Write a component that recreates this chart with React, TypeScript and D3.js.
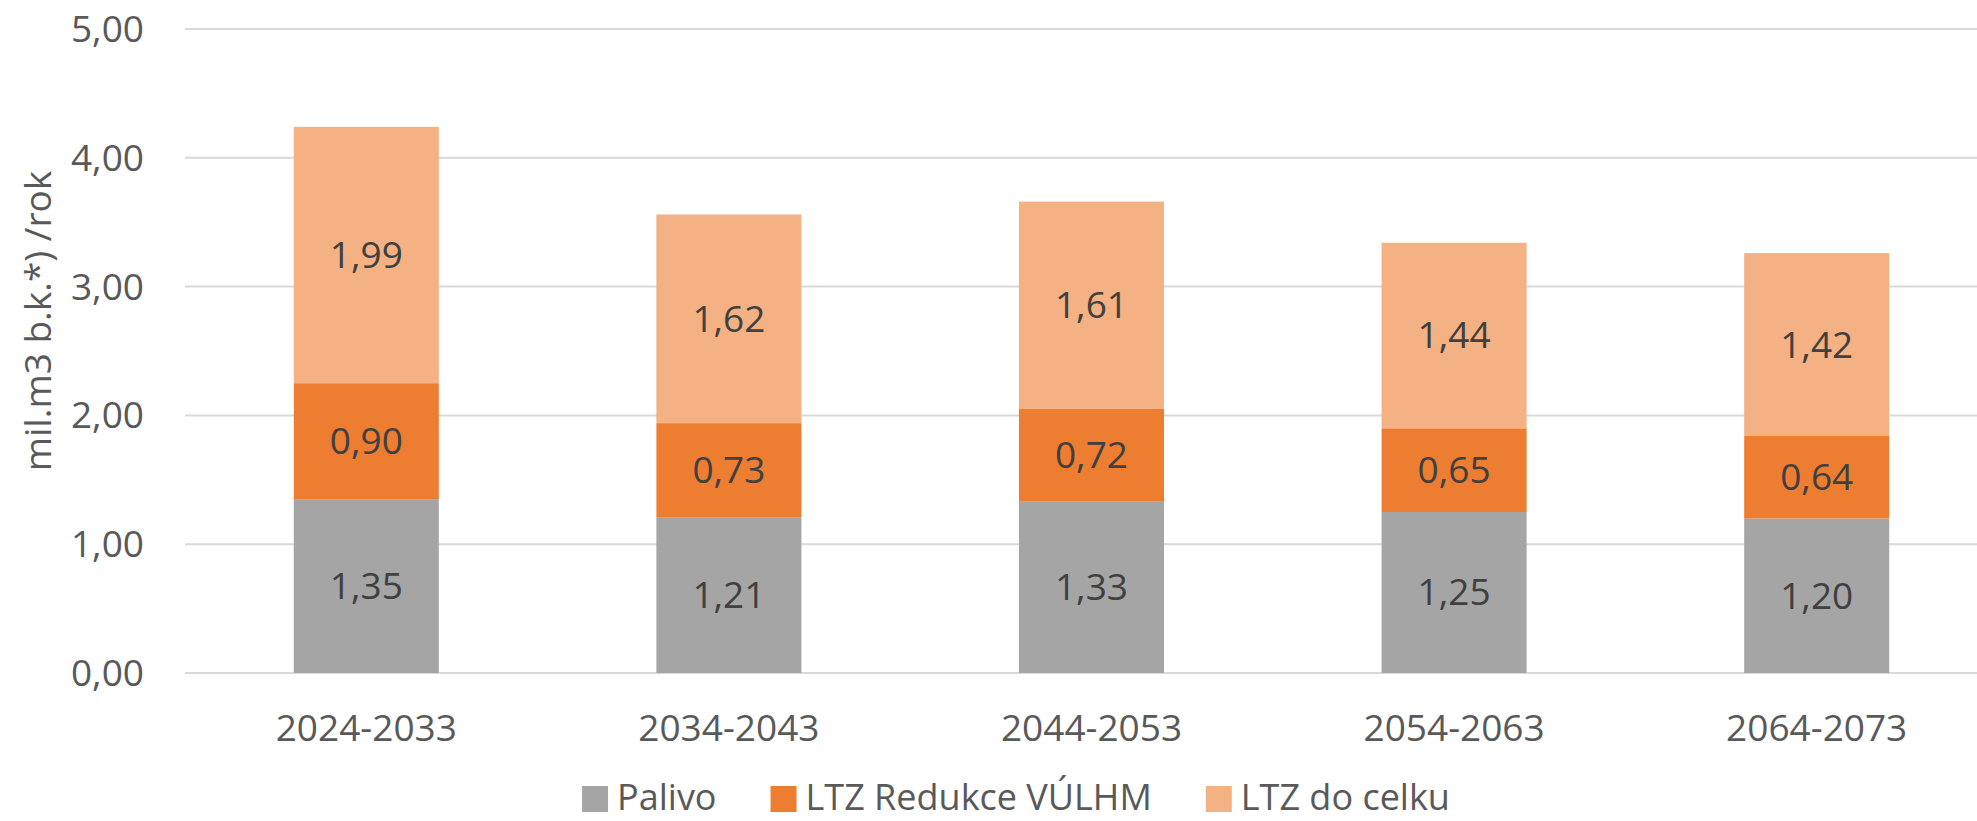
import React, { useRef, useEffect } from 'react';
import * as d3 from 'd3';

// periods on the x axis
const periods = ['2024-2033', '2034-2043', '2044-2053', '2054-2063', '2064-2073'];
// series values (mil. m3 b.k. / rok)
const palivo = [1.35, 1.21, 1.33, 1.25, 1.2];
const ltzRedukce = [0.9, 0.73, 0.72, 0.65, 0.64];
const ltzCelek = [1.99, 1.62, 1.61, 1.44, 1.42];
const seriesNames = ['Palivo', 'LTZ Redukce VÚLHM', 'LTZ do celku'];
const seriesColors = ['#A5A5A5', '#ED7D31', '#F4B183'];
const yTicks = [0, 1, 2, 3, 4, 5];

const W = 1977;
const H = 821;
const FONT = '"Open Sans", sans-serif';

const App = () => {
  const svgRef = useRef(null);

  useEffect(() => {
    const svg = d3.select(svgRef.current);
    svg.selectAll('*').remove();

    const margin = { top: 29, right: -21, bottom: 148, left: 185 };
    const x = d3.scaleBand()
      .domain(periods)
      .range([margin.left, W - margin.right])
      .paddingInner(0.6)
      .paddingOuter(0.3);
    const y = d3.scaleLinear().domain([0, 5]).range([H - margin.bottom, margin.top]);
    const fmt = (v) => d3.format('.2f')(v).replace('.', ',');

    // gridlines
    svg.append('g')
      .selectAll('line')
      .data(yTicks)
      .join('line')
      .attr('x1', margin.left)
      .attr('x2', W - margin.right)
      .attr('y1', d => y(d))
      .attr('y2', d => y(d))
      .attr('stroke', '#D9D9D9')
      .attr('stroke-width', 2);

    // y tick labels
    svg.append('g')
      .selectAll('text')
      .data(yTicks)
      .join('text')
      .attr('x', 144)
      .attr('y', d => y(d))
      .attr('dy', '0.35em')
      .attr('text-anchor', 'end')
      .attr('font-family', FONT)
      .attr('font-size', 37)
      .attr('fill', '#595959')
      .text(d => fmt(d));

    // stacked bars
    const rows = periods.map((p, i) => ({ period: p, s0: palivo[i], s1: ltzRedukce[i], s2: ltzCelek[i] }));
    const stack = d3.stack().keys(['s0', 's1', 's2']);
    const layers = stack(rows);

    const gBars = svg.append('g');
    layers.forEach((layer, li) => {
      gBars.append('g')
        .attr('fill', seriesColors[li])
        .selectAll('rect')
        .data(layer)
        .join('rect')
        .attr('x', d => x(d.data.period))
        .attr('width', x.bandwidth())
        .attr('y', d => y(d[1]))
        .attr('height', d => y(d[0]) - y(d[1]));

      gBars.append('g')
        .selectAll('text')
        .data(layer)
        .join('text')
        .attr('x', d => x(d.data.period) + x.bandwidth() / 2)
        .attr('y', d => (y(d[0]) + y(d[1])) / 2)
        .attr('dy', '0.35em')
        .attr('text-anchor', 'middle')
        .attr('font-family', FONT)
        .attr('font-size', 37)
        .attr('fill', '#404040')
        .text(d => fmt(d[1] - d[0]));
    });

    // x labels
    svg.append('g')
      .selectAll('text')
      .data(periods)
      .join('text')
      .attr('x', d => x(d) + x.bandwidth() / 2)
      .attr('y', 741)
      .attr('text-anchor', 'middle')
      .attr('font-family', FONT)
      .attr('font-size', 37)
      .attr('fill', '#595959')
      .text(d => d);

    // y axis title
    svg.append('text')
      .attr('transform', `translate(38, ${(y(0) + y(5)) / 2 - 30}) rotate(-90)`)
      .attr('dy', '0.35em')
      .attr('text-anchor', 'middle')
      .attr('font-family', FONT)
      .attr('font-size', 37)
      .attr('fill', '#595959')
      .text('mil.m3 b.k.*) /rok');

    // legend
    const sq = 26;
    const gapIn = 9;
    const gapOut = 54;
    const legend = svg.append('g');
    const items = seriesNames.map((name, i) => {
      const g = legend.append('g');
      g.append('rect').attr('width', sq).attr('height', sq).attr('y', -sq + 2).attr('fill', seriesColors[i]);
      const t = g.append('text')
        .attr('x', sq + gapIn)
        .attr('font-family', FONT)
        .attr('font-size', 36)
        .attr('fill', '#595959')
        .text(name);
      const w = sq + gapIn + t.node().getComputedTextLength();
      return { g, w };
    });
    const total = d3.sum(items, d => d.w) + gapOut * (items.length - 1);
    let cx = 1016 - total / 2;
    items.forEach(it => {
      it.g.attr('transform', `translate(${cx}, 810)`);
      cx += it.w + gapOut;
    });
  }, []);

  return (
    <svg ref={svgRef} width={W} height={H} style={{ display: 'block', position: 'absolute', left: 0, top: 0, background: '#fff' }} />
  );
};

export default App;
